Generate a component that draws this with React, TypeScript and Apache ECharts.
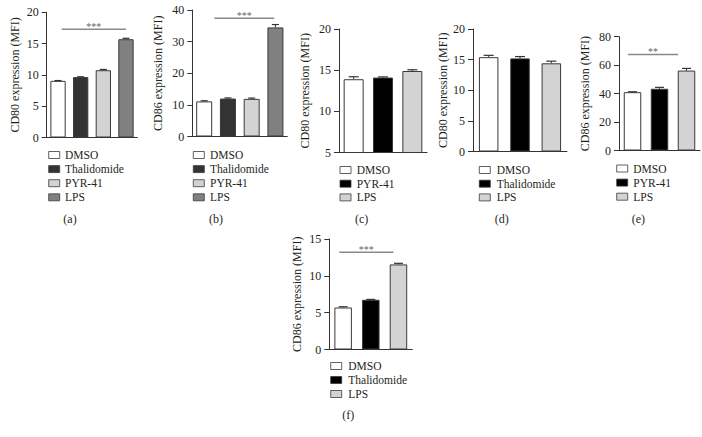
import React, { useEffect, useRef } from "react";
import * as echarts from "echarts";

// ---- data ----
const aCategories = ["DMSO", "Thalidomide", "PYR-41", "LPS"];
const aValues = [9.05, 9.65, 10.75, 15.7];
const aErrors = [0.05, 0.05, 0.12, 0.15];

const bCategories = ["DMSO", "Thalidomide", "PYR-41", "LPS"];
const bValues = [11.1, 12.0, 11.9, 34.5];
const bErrors = [0.2, 0.2, 0.25, 0.9];

const cCategories = ["DMSO", "PYR-41", "LPS"];
const cValues = [13.9, 14.1, 14.9];
const cErrors = [0.3, 0.08, 0.15];

const dCategories = ["DMSO", "Thalidomide", "LPS"];
const dValues = [15.4, 15.2, 14.4];
const dErrors = [0.3, 0.3, 0.35];

const eCategories = ["DMSO", "PYR-41", "LPS"];
const eValues = [41, 43.4, 56.2];
const eErrors = [0.3, 1.0, 1.5];

const fCategories = ["DMSO", "Thalidomide", "LPS"];
const fValues = [5.7, 6.75, 11.55];
const fErrors = [0.1, 0.05, 0.15];

const yAxisTitles = [
  "CD80 expression (MFI)",
  "CD86 expression (MFI)",
  "CD80 expression (MFI)",
  "CD80 expression (MFI)",
  "CD86 expression (MFI)",
  "CD86 expression (MFI)",
];
const yMins = [0, 0, 5, 0, 0, 0];
const yMaxs = [20, 40, 20, 20, 80, 15];
const yIntervals = [5, 10, 5, 5, 20, 5];
const panelLabels = ["(a)", "(b)", "(c)", "(d)", "(e)", "(f)"];

// significance brackets (panel index, from/to in category units, level, marks)
const sigPanels = [0, 1, 4, 5];
const sigFrom = [0.16, 0.43, -0.17, -0.14];
const sigTo = [3.0, 2.95, 1.69, 1.82];
const sigLevels = [17.3, 37.4, 67.4, 13.2];
const sigMarks = ["***", "***", "**", "***"];

// ---- layout / style ----
const FONT = "Liberation Serif";
const TXT = "#231f20";
const grids = [
  { left: 46.7, top: 12.3, width: 90.6, height: 125.2 },
  { left: 192.3, top: 10, width: 95, height: 126.5 },
  { left: 339, top: 29, width: 88, height: 123.5 },
  { left: 473, top: 29, width: 94, height: 122.5 },
  { left: 619, top: 36.7, width: 81, height: 113.8 },
  { left: 329.3, top: 239, width: 83, height: 110.5 },
];
const nameGaps = [25.5, 28, 28, 19.5, 28, 26.5];
const barWidths = [15.3, 16, 20, 19.5, 17.5, 17.5];
const capHalf = [3.5, 3.5, 5, 5, 4.5, 4.5];
const legendBoxX = [48.7, 193.3, 340, 479.3, 616.7, 330.7];
const legendTextX = [65, 210, 356.7, 496.7, 633.3, 348.3];
const legendRowY = [155, 155, 170, 170, 168.5, 366];
const legendStep = [14.1, 14.1, 13.7, 13.7, 14.1, 14];
const labelPos = [
  [70, 219],
  [216, 219],
  [361.7, 219],
  [501.7, 219],
  [638.3, 219],
  [348.3, 415],
];
const palette4 = ["#ffffff", "#333333", "#d3d3d3", "#808080"];
const palette3 = ["#ffffff", "#000000", "#d3d3d3"];

export default function App() {
  const ref = useRef<HTMLDivElement>(null);
  useEffect(() => {
    if (!ref.current) return;
    const chart = echarts.init(ref.current, undefined, { renderer: "svg" });
    const cats = [aCategories, bCategories, cCategories, dCategories, eCategories, fCategories];
    const vals = [aValues, bValues, cValues, dValues, eValues, fValues];
    const errs = [aErrors, bErrors, cErrors, dErrors, eErrors, fErrors];
    const palettes = [palette4, palette4, palette3, palette3, palette3, palette3];

    const xAxis: any[] = [];
    const yAxis: any[] = [];
    const series: any[] = [];
    const graphic: any[] = [];

    cats.forEach((c, i) => {
      xAxis.push({
        type: "category",
        gridIndex: i,
        data: c,
        axisLine: { lineStyle: { color: "#333", width: 1 } },
        axisTick: { show: false },
        axisLabel: { show: false },
      });
      yAxis.push({
        type: "value",
        gridIndex: i,
        min: yMins[i],
        max: yMaxs[i],
        interval: yIntervals[i],
        name: yAxisTitles[i],
        nameLocation: "middle",
        nameRotate: 90,
        nameGap: nameGaps[i],
        nameTextStyle: { fontFamily: FONT, fontSize: 12, color: TXT },
        axisLine: { show: true, lineStyle: { color: "#333", width: 1 } },
        axisTick: { show: true, length: 5, lineStyle: { color: "#333" } },
        axisLabel: { fontFamily: FONT, fontSize: 12, color: TXT, margin: 8 },
        splitLine: { show: false },
      });
      series.push({
        type: "bar",
        xAxisIndex: i,
        yAxisIndex: i,
        barWidth: barWidths[i],
        data: vals[i].map((v, j) => ({
          value: v,
          itemStyle: { color: palettes[i][j], borderColor: "#3a3a3a", borderWidth: 1 },
        })),
        z: 2,
      });
      const hw = capHalf[i];
      series.push({
        type: "custom",
        xAxisIndex: i,
        yAxisIndex: i,
        encode: { x: 0, y: 1 },
        data: vals[i].map((v, j) => [j, v, errs[i][j]]),
        z: 3,
        renderItem: (_p: any, api: any) => {
          const idx = api.value(0);
          const v = api.value(1);
          const e = api.value(2);
          const base = api.coord([idx, v]);
          const top = api.coord([idx, v + e]);
          return {
            type: "group",
            children: [
              {
                type: "line",
                shape: { x1: base[0], y1: base[1], x2: base[0], y2: top[1] },
                style: { stroke: "#333", lineWidth: 1 },
              },
              {
                type: "line",
                shape: { x1: base[0] - hw, y1: top[1], x2: base[0] + hw, y2: top[1] },
                style: { stroke: "#333", lineWidth: 1.2 },
              },
            ],
          };
        },
      });
      // legend
      c.forEach((name, j) => {
        const y = legendRowY[i] + j * legendStep[i];
        graphic.push({
          type: "rect",
          shape: { x: legendBoxX[i], y: y - 3.5, width: 11, height: 7 },
          style: { fill: palettes[i][j], stroke: "#3a3a3a", lineWidth: 0.8 },
        });
        graphic.push({
          type: "text",
          x: legendTextX[i],
          y: y,
          style: {
            text: name,
            fill: TXT,
            font: `11.5px "${FONT}"`,
            verticalAlign: "middle",
            align: "left",
          },
        });
      });
      graphic.push({
        type: "text",
        x: labelPos[i][0],
        y: labelPos[i][1],
        style: {
          text: panelLabels[i],
          fill: TXT,
          font: `12px "${FONT}"`,
          verticalAlign: "middle",
          align: "center",
        },
      });
    });

    sigPanels.forEach((p, k) => {
      const mark = sigMarks[k];
      series.push({
        type: "custom",
        xAxisIndex: p,
        yAxisIndex: p,
        encode: { x: 0, y: 1 },
        data: [[0, sigLevels[k], sigFrom[k], sigTo[k]]],
        z: 4,
        renderItem: (_p: any, api: any) => {
          const pt = api.coord([0, api.value(1)]);
          const band = api.size([1, 0])[0];
          const x0 = pt[0] + api.value(2) * band;
          const x1 = pt[0] + api.value(3) * band;
          return {
            type: "group",
            children: [
              {
                type: "line",
                shape: { x1: x0, y1: pt[1], x2: x1, y2: pt[1] },
                style: { stroke: "#8a8a8a", lineWidth: 1.5 },
              },
              {
                type: "text",
                x: (x0 + x1) / 2,
                y: pt[1] + 2,
                style: {
                  text: mark,
                  fill: "#666",
                  font: `10px "${FONT}"`,
                  align: "center",
                  verticalAlign: "bottom",
                },
              },
            ],
          };
        },
      });
    });

    chart.setOption({
      animation: false,
      backgroundColor: "#ffffff",
      grid: grids.map((g) => ({ ...g, containLabel: false })),
      xAxis,
      yAxis,
      series,
      graphic,
    });
    return () => chart.dispose();
  }, []);
  return (
    <div
      ref={ref}
      style={{ position: "absolute", left: 0, top: 0, width: 702, height: 437 }}
    />
  );
}
